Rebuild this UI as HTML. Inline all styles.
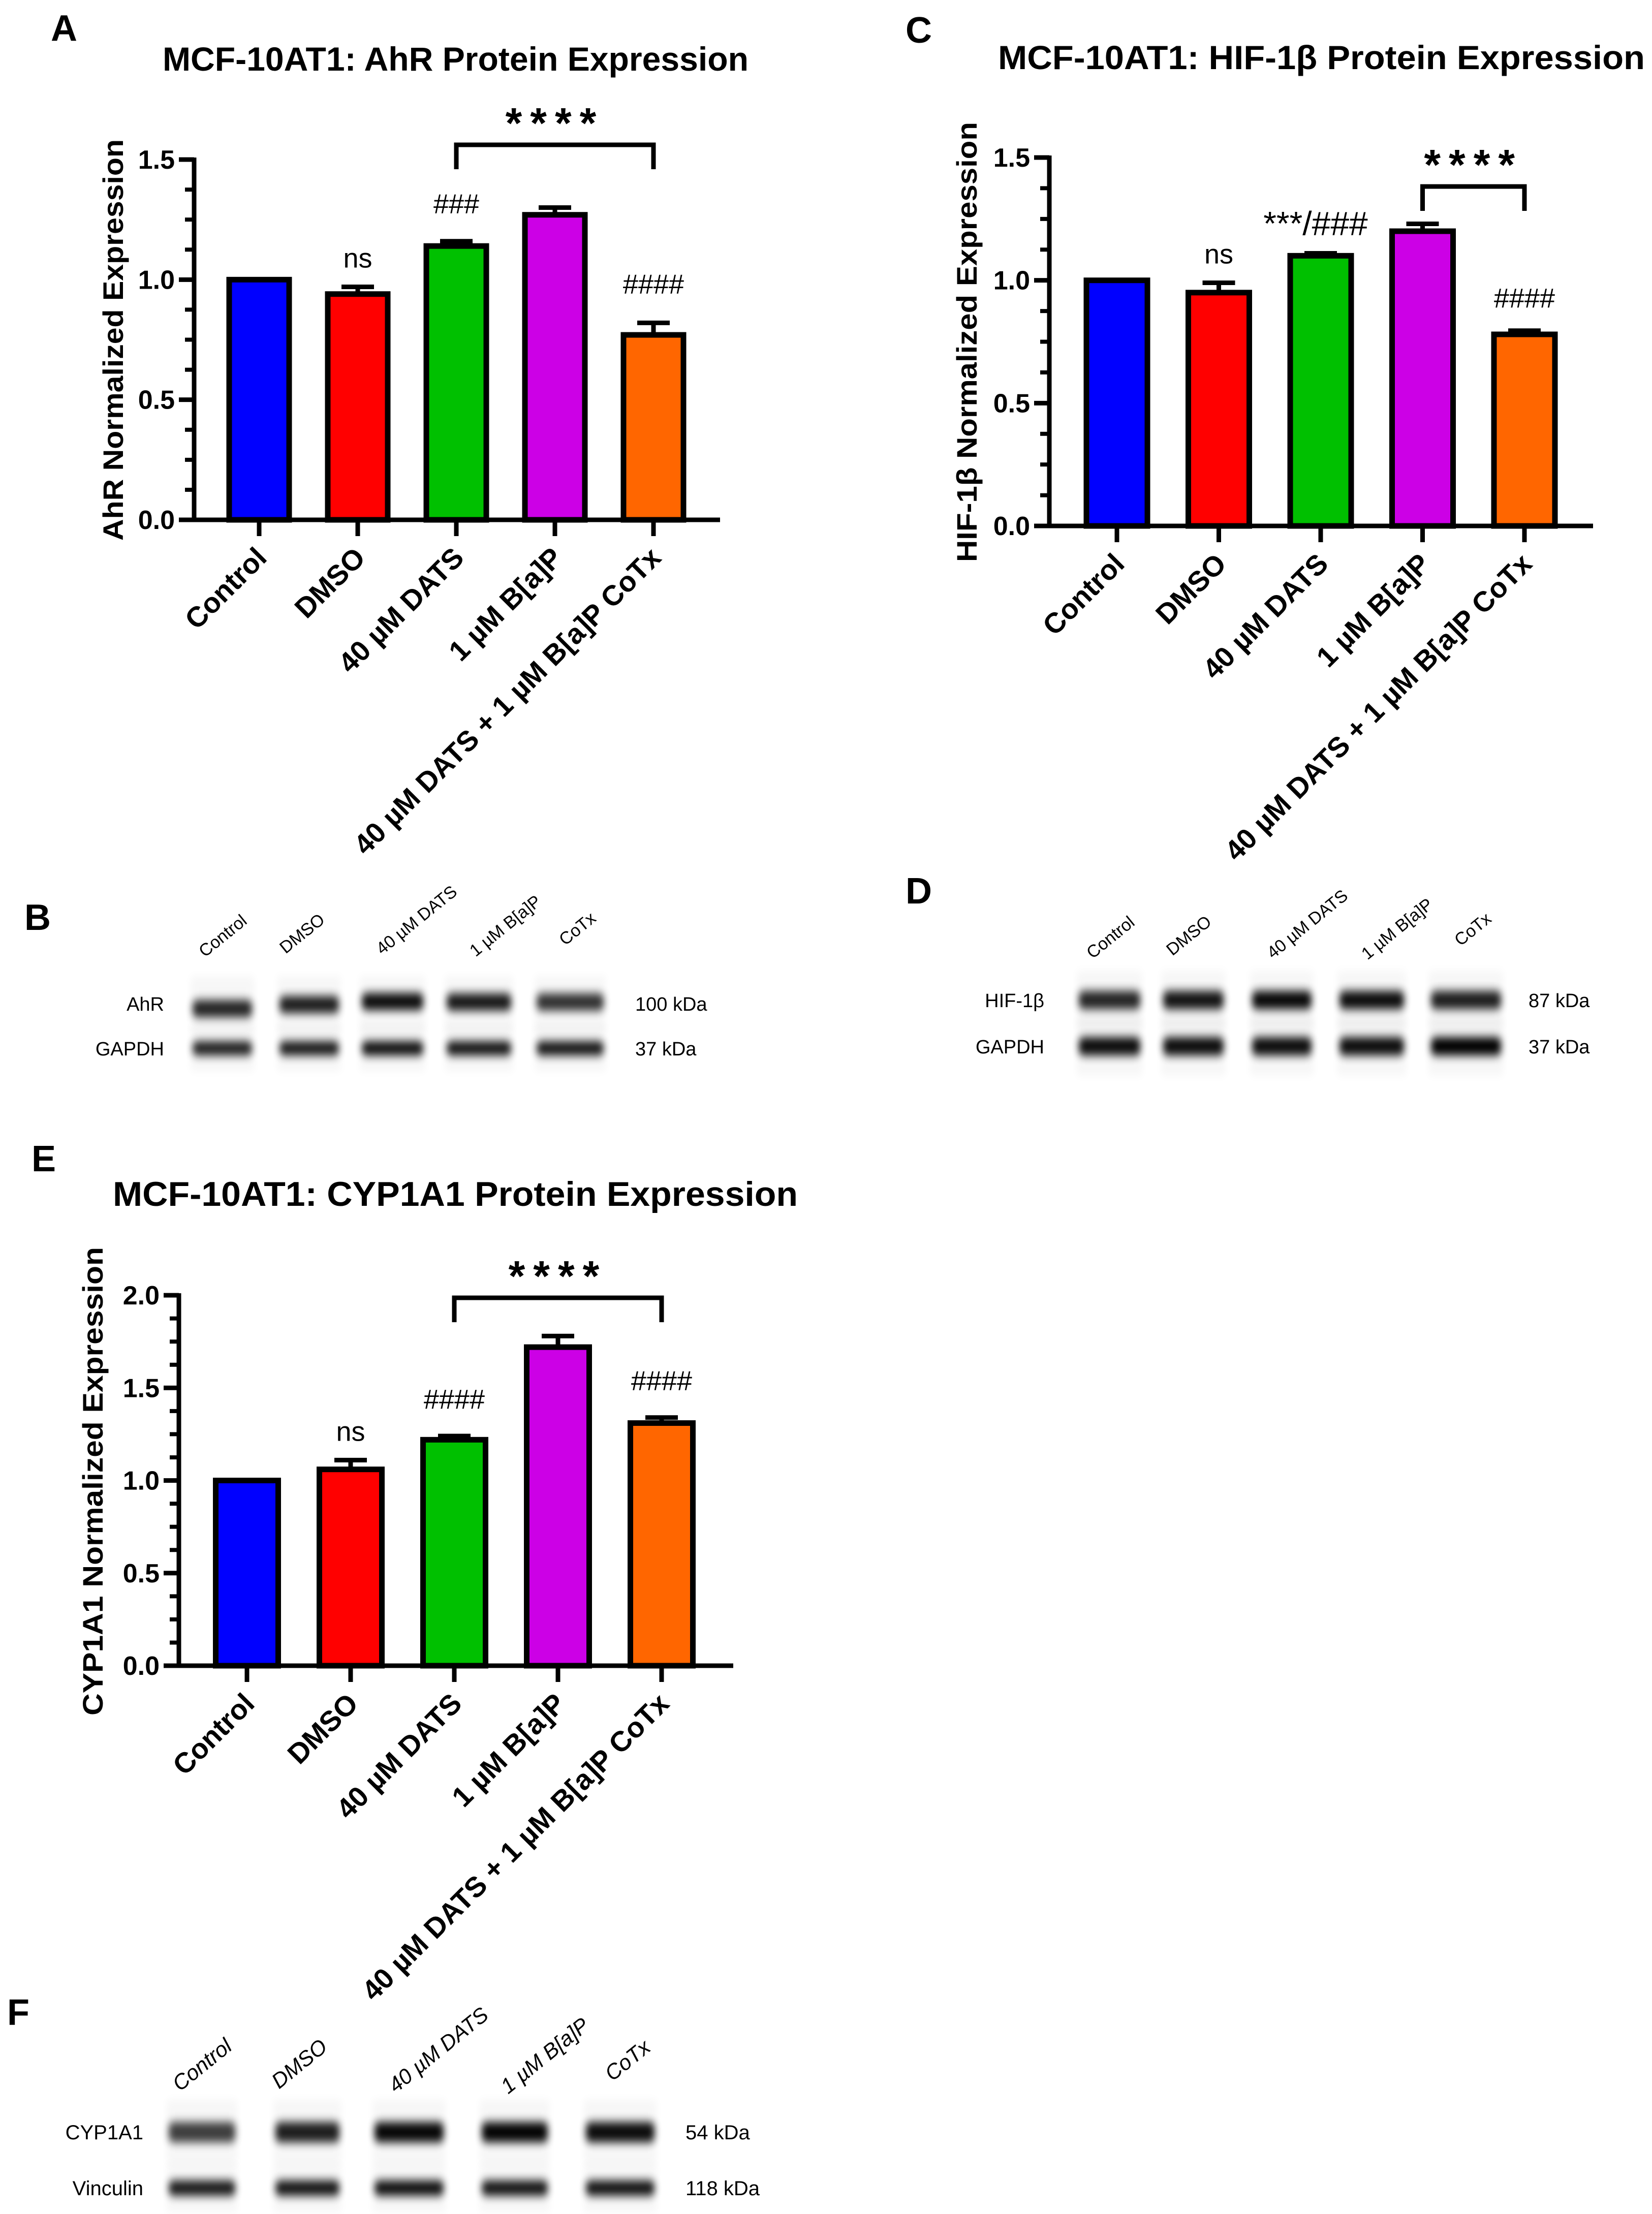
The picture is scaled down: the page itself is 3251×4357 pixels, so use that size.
<!DOCTYPE html>
<html><head><meta charset="utf-8"><style>
html,body{margin:0;padding:0;background:#fff}
svg{display:block}
text{font-family:"Liberation Sans",sans-serif}
</style></head><body>
<svg id="fig" width="3251" height="4357" viewBox="0 0 3251 4357" xmlns="http://www.w3.org/2000/svg">
<defs>
<filter id="blur" x="-30%" y="-100%" width="160%" height="300%"><feGaussianBlur stdDeviation="7 9"/></filter>
</defs>
<rect x="0" y="0" width="3251" height="4357" fill="#fff"/>
<text x="100" y="80" font-size="72" font-weight="bold">A</text>
<text x="1782" y="84" font-size="72" font-weight="bold">C</text>
<text x="48" y="1830" font-size="72" font-weight="bold">B</text>
<text x="1782" y="1778" font-size="72" font-weight="bold">D</text>
<text x="62" y="2305" font-size="72" font-weight="bold">E</text>
<text x="14" y="3985" font-size="72" font-weight="bold">F</text>
<g id="charts"></g>
<g id="blots"></g>
</svg>
<script>
const categories = ["Control","DMSO","40 µM DATS","1 µM B[a]P","40 µM DATS + 1 µM B[a]P CoTx"];
const barColors = ["#0000ff","#ff0000","#00c000","#cc00e6","#ff6600"];
const ahrValues = [1.0, 0.94, 1.14, 1.27, 0.77];
const ahrErrors = [0.0, 0.03, 0.02, 0.03, 0.05];
const ahrTicks = ["0.0","0.5","1.0","1.5"];
const hifValues = [1.0, 0.95, 1.10, 1.20, 0.78];
const hifErrors = [0.0, 0.04, 0.01, 0.03, 0.015];
const hifTicks = ["0.0","0.5","1.0","1.5"];
const cypValues = [1.0, 1.06, 1.22, 1.72, 1.31];
const cypErrors = [0.0, 0.05, 0.02, 0.06, 0.03];
const cypTicks = ["0.0","0.5","1.0","1.5","2.0"];

const NS = "http://www.w3.org/2000/svg";
function mk(tag, attrs, parent, txt){
  const e = document.createElementNS(NS, tag);
  for (const k in attrs) e.setAttribute(k, attrs[k]);
  if (txt !== undefined) e.textContent = txt;
  parent.appendChild(e);
  return e;
}

function drawChart(cfg){
  const g = mk("g", {}, document.getElementById("charts"));
  
  
  const yScale = v => cfg.y0 - (v / cfg.yMax) * (cfg.y0 - cfg.yTop);
  const n = cfg.values.length;
  const xScale = i => cfg.firstX + i * cfg.step;
  const t = mk("text", {x: cfg.titleX, y: cfg.titleY, "font-size": cfg.titleSize, "font-weight": "bold", textLength: cfg.titleLen, lengthAdjust: "spacingAndGlyphs"}, g, cfg.title);
  
  
  const yt = mk("text", {x: 0, y: 0, "font-size": 56, "font-weight": "bold", "text-anchor": "middle", textLength: cfg.yTitleLen, lengthAdjust: "spacingAndGlyphs", transform: `translate(${cfg.yTitleX},${cfg.yTitleY}) rotate(-90)`}, g, cfg.yTitle);
  
  
  for (let i = 0; i < n; i++){
    const cx = xScale(i), w = cfg.barW;
    const top = yScale(cfg.values[i]);
    const errTop = yScale(cfg.values[i] + cfg.errors[i]);
    if (cfg.errors[i] > 0){
      const el = mk("line", {x1: cx, x2: cx, y1: top, y2: errTop, stroke: "#000", "stroke-width": 9}, g);
      
      
      const cap = mk("line", {x1: cx - 32, x2: cx + 32, y1: errTop, y2: errTop, stroke: "#000", "stroke-width": 9}, g);
      
      
    }
    const b = mk("rect", {x: cx - w/2, y: top, width: w, height: cfg.y0 - top, fill: cfg.colors[i], stroke: "#000", "stroke-width": 11}, g);
    
    
    const tk = mk("line", {x1: cx, x2: cx, y1: cfg.y0, y2: cfg.y0 + 32, stroke: "#000", "stroke-width": 9}, g);
    
    
    const lab = mk("text", {x: 0, y: 0, "font-size": 56, "font-weight": "bold", "text-anchor": "end", transform: `translate(${cx + 18},${cfg.y0 + 78}) rotate(-45)`}, g, cfg.cats[i]);
    
    
  }
  const ya = mk("line", {x1: cfg.axisX, x2: cfg.axisX, y1: cfg.yTop - 4, y2: cfg.y0 + 4, stroke: "#000", "stroke-width": 9}, g);
  
  
  const xa = mk("line", {x1: cfg.axisX - 30, x2: cfg.axisEnd, y1: cfg.y0, y2: cfg.y0, stroke: "#000", "stroke-width": 9}, g);
  
  
  for (let k = 0; k < cfg.ticks.length; k++){
    const v = parseFloat(cfg.ticks[k]);
    const y = yScale(v);
    const tl = mk("line", {x1: cfg.axisX - 30, x2: cfg.axisX, y1: y, y2: y, stroke: "#000", "stroke-width": 9}, g);
    
    
    const tt = mk("text", {x: cfg.axisX - 38, y: y + 18, "font-size": 52, "font-weight": "bold", "text-anchor": "end"}, g, cfg.ticks[k]);
    
    
    if (k < cfg.ticks.length - 1){
      const step = (parseFloat(cfg.ticks[k+1]) - v) / 4;
      for (let m = 1; m < 4; m++){
        const ym = yScale(v + step * m);
        const ml = mk("line", {x1: cfg.axisX - 18, x2: cfg.axisX, y1: ym, y2: ym, stroke: "#000", "stroke-width": 8}, g);
        
        
      }
    }
  }
  cfg.annots.forEach(a => {
    const i = a.bar;
    const top = yScale(cfg.values[i] + cfg.errors[i]);
    const at = mk("text", {x: xScale(i) + (a.dx || 0), y: top - a.gap, "font-size": a.size || 54, "text-anchor": "middle"}, g, a.text);
    
    
  });
  const x1 = xScale(cfg.bracket[0]), x2 = xScale(cfg.bracket[1]);
  const bp = mk("path", {d: `M${x1},${cfg.bracketY + 48} V${cfg.bracketY} H${x2} V${cfg.bracketY + 48}`, fill: "none", stroke: "#000", "stroke-width": 9}, g);
  
  
  const st = mk("text", {x: (x1 + x2)/2, y: cfg.bracketY - 14, "font-size": 84, "font-weight": "bold", "text-anchor": "middle", "letter-spacing": 16}, g, "****");
  
  
}

drawChart({name: "ahr-chart", title: "MCF-10AT1: AhR Protein Expression", titleX: 320, titleY: 139, titleSize: 66, titleLen: 1153,
  yTitle: "AhR Normalized Expression", yTitleX: 242, yTitleY: 669, yTitleLen: 790,
  values: ahrValues, errors: ahrErrors, ticks: ahrTicks, cats: categories, colors: barColors,
  yMax: 1.5, y0: 1023, yTop: 314, axisX: 382, axisEnd: 1417, firstX: 510, step: 194, barW: 118,
  annots: [{bar:1, text:"ns", gap:38}, {bar:2, text:"###", gap:55}, {bar:4, text:"####", gap:58}],
  bracket: [2,4], bracketY: 285});

drawChart({name: "hif-chart", title: "MCF-10AT1: HIF-1β Protein Expression", titleX: 1964, titleY: 136, titleSize: 66, titleLen: 1273,
  yTitle: "HIF-1β Normalized Expression", yTitleX: 1922, yTitleY: 673, yTitleLen: 866,
  values: hifValues, errors: hifErrors, ticks: hifTicks, cats: categories, colors: barColors,
  yMax: 1.5, y0: 1035, yTop: 310, axisX: 2065, axisEnd: 3135, firstX: 2198, step: 200.5, barW: 120,
  annots: [{bar:1, text:"ns", gap:38}, {bar:2, text:"***/###", gap:36, dx:-10, size:66}, {bar:4, text:"####", gap:46}],
  bracket: [3,4], bracketY: 367});

drawChart({name: "cyp-chart", title: "MCF-10AT1: CYP1A1 Protein Expression", titleX: 222, titleY: 2373, titleSize: 68, titleLen: 1348,
  yTitle: "CYP1A1 Normalized Expression", yTitleX: 202, yTitleY: 2915, yTitleLen: 922,
  values: cypValues, errors: cypErrors, ticks: cypTicks, cats: categories, colors: barColors,
  yMax: 2.0, y0: 3278, yTop: 2549, axisX: 352, axisEnd: 1443, firstX: 486, step: 204, barW: 123,
  annots: [{bar:1, text:"ns", gap:38}, {bar:2, text:"####", gap:54}, {bar:4, text:"####", gap:54}],
  bracket: [2,4], bracketY: 2554});

const laneNames = ["Control","DMSO","40 µM DATS","1 µM B[a]P","CoTx"];
function drawBlot(b){
  const g = mk("g", {}, document.getElementById("blots"));
  
  
  b.laneLabelPos.forEach((p, i) => {
    const t = mk("text", {x: 0, y: 0, "font-size": b.laneSize, "font-style": b.italic ? "italic" : "normal", transform: `translate(${p[0]},${p[1]}) rotate(-39)`}, g, laneNames[i]);
    
    
  });
  b.rows.forEach(r => {
    const rl = mk("text", {x: b.labelX, y: r.y + 14, "font-size": b.labelSize, "text-anchor": "end"}, g, r.label);
    
    
    const kd = mk("text", {x: b.kdaX, y: r.y + 14, "font-size": b.labelSize}, g, r.kda);
    
    
    b.lanes.forEach((ln, i) => {
      const bg = mk("rect", {x: ln[0], y: r.y - r.h * 1.6, width: ln[1] - ln[0], height: r.h * 3.2, fill: "#000", opacity: 0.03, filter: "url(#blur)"}, g);
      
      
      const band = mk("rect", {x: ln[0] + 4, y: r.y - r.h/2 + (r.offs ? r.offs[i] : 0), width: ln[1] - ln[0] - 8, height: r.h, rx: 10, fill: "#000", opacity: r.int[i], filter: "url(#blur)"}, g);
      
      
    });
  });
}
drawBlot({name: "blot-b", laneSize: 34, labelSize: 38, labelX: 323, kdaX: 1250,
  laneLabelPos: [[403,1885],[562,1878],[752,1880],[936,1884],[1112,1862]],
  lanes: [[375,500],[546,671],[708,837],[875,1010],[1052,1192]],
  rows: [{label:"AhR", kda:"100 kDa", y:1975, h:34, int:[0.85,0.88,0.95,0.9,0.8], offs:[10,2,-4,-3,-3]},
         {label:"GAPDH", kda:"37 kDa", y:2063, h:28, int:[0.88,0.9,0.95,0.93,0.92]}]});
drawBlot({name: "blot-d", laneSize: 34, labelSize: 38, labelX: 2055, kdaX: 3008,
  laneLabelPos: [[2150,1888],[2307,1882],[2505,1888],[2691,1890],[2874,1863]],
  lanes: [[2119,2248],[2285,2412],[2460,2585],[2632,2767],[2812,2958]],
  rows: [{label:"HIF-1β", kda:"87 kDa", y:1968, h:36, int:[0.85,0.92,0.97,0.95,0.88]},
         {label:"GAPDH", kda:"37 kDa", y:2059, h:36, int:[0.95,0.95,0.95,0.95,1.0]}]});
drawBlot({name: "blot-f", laneSize: 42, italic: true, labelSize: 40, labelX: 282, kdaX: 1349,
  laneLabelPos: [[354,4117],[549,4112],[779,4120],[1000,4122],[1205,4097]],
  lanes: [[328,467],[538,672],[733,877],[944,1082],[1149,1292]],
  rows: [{label:"CYP1A1", kda:"54 kDa", y:4196, h:40, int:[0.75,0.88,0.97,0.98,0.95]},
         {label:"Vinculin", kda:"118 kDa", y:4306, h:30, int:[0.9,0.92,0.94,0.92,0.93]}]});
</script>
</body></html>
